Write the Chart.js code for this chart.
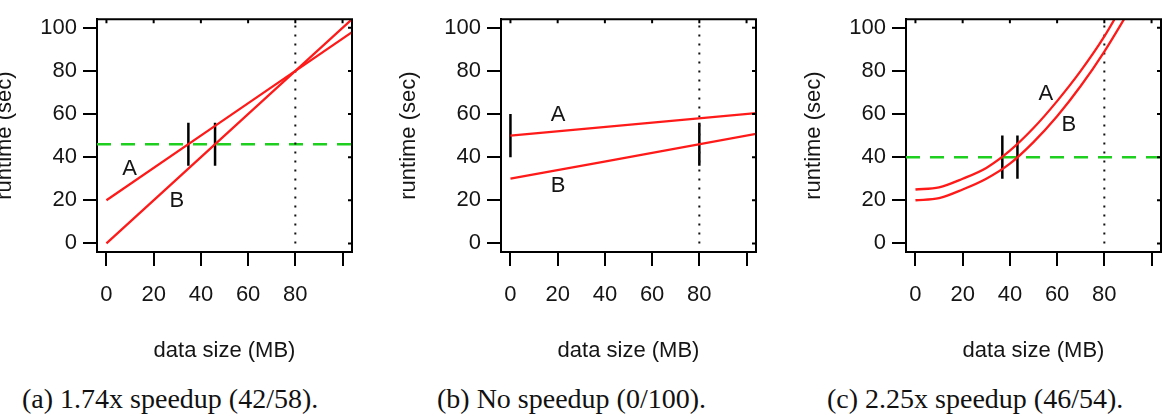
<!DOCTYPE html>
<html>
<head>
<meta charset="utf-8">
<script src="https://cdn.jsdelivr.net/npm/chart.js@4"></script>
<style>
  html, body { margin: 0; padding: 0; background: #fff; }
  body { position: relative; width: 1165px; height: 418px; overflow: hidden; }
  canvas { position: absolute; top: 0; }
  .cap { position: absolute; top: 385px; font-family: "Liberation Serif", serif; font-size: 28px; line-height: 28px; white-space: nowrap; color: #111; }
</style>
</head>
<body>
<canvas id="chartA" width="390" height="364" style="left:-16px"></canvas>
<canvas id="chartB" width="390" height="364" style="left:388px"></canvas>
<canvas id="chartC" width="390" height="364" style="left:793px"></canvas>
<div class="cap" style="left:22px">(a) 1.74x speedup (42/58).</div>
<div class="cap" style="left:437px">(b) No speedup (0/100).</div>
<div class="cap" style="left:827px">(c) 2.25x speedup (46/54).</div>
<script>
// axes, shared by the three panels
const axisMin = -4
const axisMax = 104
const xTicks = [0, 20, 40, 60, 80, 100]
const xTickLabels = ['0', '20', '40', '60', '80', '']
const yTicks = [0, 20, 40, 60, 80, 100]
const cutoffX = 80

// (a) 1.74x speedup
const aSize = [0, 104]
const aRunA = [20, 98]
const aRunB = [0, 104]
const aThreshold = 46
const aMarkX = [34.7, 46]
const aMarkY = [46, 46]
const aLabelX = [9.8, 29.8]
const aLabelY = [34.5, 19.5]

// (b) no speedup
const bSize = [0, 104]
const bRunA = [50, 60.4]
const bRunB = [30, 50.8]
const bThreshold = null
const bMarkX = [0, 80]
const bMarkY = [50, 46]
const bLabelX = [20.2, 20.2]
const bLabelY = [59.5, 26.6]

// (c) 2.25x speedup
const cSize = [0, 10, 20, 30, 40, 50, 60, 70, 80, 90]
const cRunA = [25, 26, 30, 35, 43, 53.5, 66, 80, 96, 115]
const cRunB = [20, 21, 25, 30, 37, 47, 59, 73, 89, 107]
const cThreshold = 40
const cMarkX = [36.8, 43.2]
const cMarkY = [40, 40]
const cLabelX = [55.2, 65]
const cLabelY = [69.5, 55]

const markHalf = 10
const labelNames = ['A', 'B']

const sans = '"Liberation Sans", Arial, sans-serif'
const ink = '#151515'
const red = '#ff1a1a'
const green = '#1fcf1f'

function pts (xs, ys) {
  return xs.map((x, i) => ({ x: x, y: ys[i] }))
}

// frame top/right edges, inner ticks and the A/B labels
const framePlugin = {
  id: 'frame',
  afterDraw (chart, args, opts) {
    const { ctx, chartArea: a, scales } = chart
    ctx.save()
    ctx.strokeStyle = '#000'
    ctx.lineWidth = 2
    ctx.beginPath()
    ctx.moveTo(a.left, a.top)
    ctx.lineTo(a.right, a.top)
    ctx.lineTo(a.right, a.bottom)
    xTicks.forEach(v => {
      const px = scales.x.getPixelForValue(v)
      ctx.moveTo(px, a.top)
      ctx.lineTo(px, a.top + 4)
    })
    yTicks.forEach(v => {
      const py = scales.y.getPixelForValue(v)
      ctx.moveTo(a.right, py)
      ctx.lineTo(a.right - 4, py)
    })
    ctx.stroke()
    ctx.fillStyle = ink
    ctx.font = '22px ' + sans
    ctx.textAlign = 'center'
    ctx.textBaseline = 'middle'
    opts.labelX.forEach((x, i) => {
      ctx.fillText(labelNames[i], scales.x.getPixelForValue(x), scales.y.getPixelForValue(opts.labelY[i]))
    })
    ctx.restore()
  }
}

function makeChart (id, size, runA, runB, threshold, markX, markY, labelX, labelY) {
  const datasets = [
    { data: pts(size, runA), borderColor: red, borderWidth: 2.3, cubicInterpolationMode: 'monotone' },
    { data: pts(size, runB), borderColor: red, borderWidth: 2.3, cubicInterpolationMode: 'monotone' },
    { data: pts([cutoffX, cutoffX], [0, axisMax]), borderColor: '#111', borderWidth: 2, borderDash: [2, 7] }
  ]
  if (threshold !== null) {
    datasets.push({ data: pts([axisMin, axisMax], [threshold, threshold]), borderColor: green, borderWidth: 2.5, borderDash: [14, 10] })
  }
  markX.forEach((x, i) => {
    datasets.push({ data: pts([x, x], [markY[i] - markHalf, markY[i] + markHalf]), borderColor: '#000', borderWidth: 2.5 })
  })

  return new Chart(document.getElementById(id), {
    type: 'line',
    data: { datasets: datasets },
    options: {
      responsive: false,
      animation: false,
      layout: { padding: { left: 8, top: 14, right: 22, bottom: 0 } },
      elements: { point: { radius: 0 } },
      plugins: {
        legend: { display: false },
        tooltip: { enabled: false },
        frame: { labelX: labelX, labelY: labelY }
      },
      scales: {
        x: {
          type: 'linear',
          min: axisMin,
          max: axisMax,
          afterBuildTicks: s => { s.ticks = xTicks.map(v => ({ value: v })) },
          afterFit: s => { s.height = 112 },
          ticks: {
            autoSkip: false,
            maxRotation: 0,
            padding: 16,
            color: ink,
            font: { family: sans, size: 22 },
            callback: (v, i) => xTickLabels[i]
          },
          grid: { drawOnChartArea: false, drawTicks: true, tickLength: 14, color: '#000', lineWidth: 2 },
          border: { display: true, color: '#000', width: 2 },
          title: { display: true, text: 'data size (MB)', color: ink, font: { family: sans, size: 22 }, padding: 0 }
        },
        y: {
          type: 'linear',
          min: axisMin,
          max: axisMax,
          afterBuildTicks: s => { s.ticks = yTicks.map(v => ({ value: v })) },
          afterFit: s => { s.width = 105 },
          ticks: {
            padding: 6,
            color: ink,
            font: { family: sans, size: 22 }
          },
          grid: { drawOnChartArea: false, drawTicks: true, tickLength: 14, color: '#000', lineWidth: 2 },
          border: { display: true, color: '#000', width: 2 },
          title: { display: true, text: 'runtime (sec)', color: ink, font: { family: sans, size: 22 }, padding: 0 }
        }
      }
    },
    plugins: [framePlugin]
  })
}

makeChart('chartA', aSize, aRunA, aRunB, aThreshold, aMarkX, aMarkY, aLabelX, aLabelY)
makeChart('chartB', bSize, bRunA, bRunB, bThreshold, bMarkX, bMarkY, bLabelX, bLabelY)
makeChart('chartC', cSize, cRunA, cRunB, cThreshold, cMarkX, cMarkY, cLabelX, cLabelY)
</script>
</body>
</html>
